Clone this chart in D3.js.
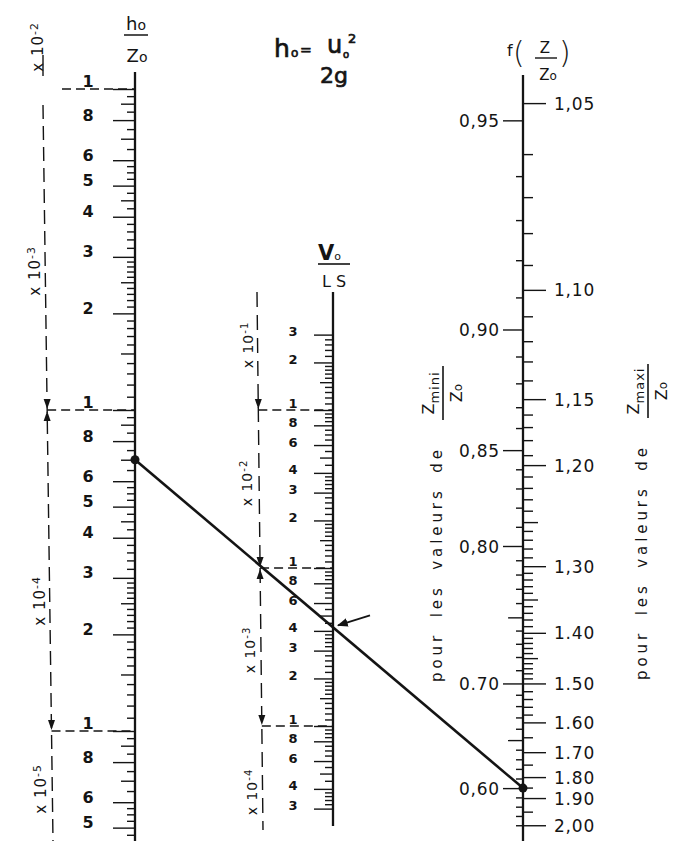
<!DOCTYPE html>
<html>
<head>
<meta charset="utf-8">
<script src="https://cdnjs.cloudflare.com/ajax/libs/d3/7.8.5/d3.min.js"></script>
<style>
  body { margin: 0; background: #fff; }
  svg { display: block; }
</style>
</head>
<body>
<script>
//---- values ----

//left scale h0/Z0 (log)
const hLabelValues = [1e-2, 8e-3, 6e-3, 5e-3, 4e-3, 3e-3, 2e-3, 1e-3, 8e-4, 6e-4, 5e-4, 4e-4, 3e-4, 2e-4, 1e-4, 8e-5, 6e-5, 5e-5];
const hLabelText   = ['1', '8', '6', '5', '4', '3', '2', '1', '8', '6', '5', '4', '3', '2', '1', '8', '6', '5'];
const hDecades     = [1e-2, 1e-3, 1e-4];
const hPowers      = ['-2', '-3', '-4', '-5'];
const hDecadeBase  = [1e-2, 1e-3, 1e-4, 1e-5];
const hMediumMantissa = [1.5, 2.5, 4.5, 7, 9];
const hMinorMantissa  = [1.1, 1.2, 1.3, 1.4, 1.6, 1.7, 1.8, 1.9, 2.1, 2.2, 2.3, 2.4, 2.6, 2.7, 2.8, 2.9,
                         3.2, 3.4, 3.6, 3.8, 4.25, 4.75, 5.25, 5.5, 5.75, 6.5, 7.5, 8.5, 9.5];

//middle scale V0/LS (log)
const vLabelValues = [3e-1, 2e-1, 1e-1, 8e-2, 6e-2, 4e-2, 3e-2, 2e-2, 1e-2, 8e-3, 6e-3, 4e-3, 3e-3, 2e-3, 1e-3, 8e-4, 6e-4, 4e-4, 3e-4];
const vLabelText   = ['3', '2', '1', '8', '6', '4', '3', '2', '1', '8', '6', '4', '3', '2', '1', '8', '6', '4', '3'];
const vDecades     = [1e-1, 1e-2, 1e-3];
const vPowers      = ['-1', '-2', '-3', '-4'];
const vDecadeBase  = [1e-1, 1e-2, 1e-3, 1e-4];
const vMediumMantissa = [1.5, 5];
const vMinorMantissa  = [1.1, 1.2, 1.3, 1.4, 1.6, 1.7, 1.8, 1.9, 2.2, 2.4, 2.6, 2.8, 3.2, 3.4, 3.6, 3.8,
                         4.5, 5.5, 6.5, 7, 7.5, 8.5, 9, 9.5];

//right scale f(Z/Z0): Zmini (left side) and Zmaxi (right side) against f
const zMiniCal = [0.95, 0.94, 0.93, 0.92, 0.91, 0.90, 0.89, 0.88, 0.87, 0.86, 0.85, 0.80, 0.75, 0.70, 0.65, 0.60, 0.56];
const fMiniCal = [975, 639, 458, 338, 255, 200, 163, 133, 111, 94.8, 80.2, 38.8, 22.6, 13.7, 8.92, 6.2, 4.68];
const zMaxiCal = [1.05, 1.06, 1.07, 1.08, 1.09, 1.10, 1.11, 1.12, 1.13, 1.14, 1.15, 1.16, 1.17, 1.18, 1.19, 1.20,
                  1.25, 1.30, 1.40, 1.50, 1.60, 1.70, 1.80, 1.90, 2.00];
const fMaxiCal = [1111, 755, 545, 415, 326, 270, 221, 183, 157, 136, 118, 105, 95.5, 86.5, 77.2, 71.6,
                  46.5, 33.3, 20.1, 13.7, 10.2, 8.14, 6.74, 5.75, 4.68];

const zMiniLabels = [0.95, 0.90, 0.85, 0.80, 0.70, 0.60];
const zMiniText   = ['0,95', '0,90', '0,85', '0,80', '0.70', '0,60'];
const zMiniMedium = [0.75, 0.65];
const zMiniMinor  = [0.94, 0.93, 0.92, 0.91, 0.89, 0.88, 0.87, 0.86, 0.84, 0.83, 0.82, 0.81, 0.79, 0.78, 0.77, 0.76,
                     0.74, 0.73, 0.72, 0.71, 0.69, 0.68, 0.67, 0.66, 0.64, 0.63, 0.62, 0.61, 0.59, 0.58, 0.57, 0.56];

const zMaxiLabels = [1.05, 1.10, 1.15, 1.20, 1.30, 1.40, 1.50, 1.60, 1.70, 1.80, 1.90, 2.00];
const zMaxiText   = ['1,05', '1,10', '1,15', '1,20', '1,30', '1.40', '1.50', '1.60', '1.70', '1.80', '1.90', '2,00'];
const zMaxiMedium = [1.25, 1.35, 1.45];
const zMaxiMinor  = [1.06, 1.07, 1.08, 1.09, 1.11, 1.12, 1.13, 1.14, 1.16, 1.17, 1.18, 1.19,
                     1.21, 1.22, 1.23, 1.24, 1.26, 1.27, 1.28, 1.29, 1.31, 1.32, 1.33, 1.34, 1.36, 1.37, 1.38, 1.39,
                     1.41, 1.42, 1.43, 1.44, 1.46, 1.47, 1.48, 1.49, 1.52, 1.54, 1.56, 1.58, 1.65, 1.75, 1.85, 1.95];

//worked example drawn on the chart
const exampleH = 7e-4;
const exampleZmini = 0.60;

//---- layout ----
const W = 681, H = 841;
const INK = '#141414';
const FONT = '"DejaVu Sans", sans-serif';
const LEFT_X = 135, MID_X = 333, RIGHT_X = 523;
const LEFT_TOP = 72, MID_TOP = 292, MID_BOTTOM = 826, RIGHT_TOP = 75;

//scales (log scales anchored on decade marks)
const hScale = d3.scaleLog().domain([1e-4, 1e-2]).range([731, 89]);
const vScale = d3.scaleLog().domain([1e-3, 1e-1]).range([726, 410]);
const fScale = d3.scaleLog().domain([1, 1000]).range([1029, 117]);

//Z/Z0 -> log f, piecewise through the calibration points
const zMiniLog = d3.scaleLinear().domain(zMiniCal).range(fMiniCal.map(Math.log10));
const zMaxiLog = d3.scaleLinear().domain(zMaxiCal).range(fMaxiCal.map(Math.log10));
const zMiniToF = z => Math.pow(10, zMiniLog(z));
const zMaxiToF = z => Math.pow(10, zMaxiLog(z));

//slanted dashed guide lines (the scan is hand drawn)
const leftDashX = d3.scaleLinear().domain([105, H]).range([43, 53]);
const midDashX = d3.scaleLinear().domain([MID_TOP, 830]).range([257, 263]);

const svg = d3.select('body').append('svg')
    .attr('width', W)
    .attr('height', H)
    .style('font-family', FONT);

svg.append('rect').attr('width', W).attr('height', H).attr('fill', '#fff');

svg.append('defs').append('marker')
    .attr('id', 'arrow')
    .attr('viewBox', '0 0 10 10')
    .attr('refX', 9).attr('refY', 5)
    .attr('markerWidth', 6).attr('markerHeight', 6)
    .attr('orient', 'auto')
    .append('path').attr('d', 'M0,1 L10,5 L0,9 Z').attr('fill', INK);

//one set of ticks through a d3 axis
function tickAxis(g, axisFn, scale, values, size, fmt){
    let axis = axisFn(scale)
        .tickValues(values)
        .tickSize(size)
        .tickSizeOuter(0)
        .tickFormat(fmt || (() => ''));
    let sel = g.append('g').call(axis);
    sel.select('.domain').remove();
    sel.selectAll('line').attr('stroke', INK).attr('stroke-width', 1.4);
    sel.attr('font-family', null).attr('font-size', null);
    return sel;
}

//spreads mantissas over decades, keeps the ones inside [lo, hi]
function spread(bases, mantissas, lo, hi){
    let out = [];
    bases.forEach(b => mantissas.forEach(m => {
        let v = +(m * b).toPrecision(4);
        if(v >= lo && v <= hi) out.push(v);
    }));
    return out;
}

function vline(x1, y1, x2, y2, w, dash){
    return svg.append('line')
        .attr('x1', x1).attr('y1', y1).attr('x2', x2).attr('y2', y2)
        .attr('stroke', INK).attr('stroke-width', w)
        .attr('stroke-dasharray', dash || null);
}

//small filled arrow head on the dashed guide, tip at (x,y)
function arrowHead(x, y, dir){
    svg.append('path')
        .attr('d', `M${x},${y} L${x - 3.5},${y - dir * 10} L${x + 3.5},${y - dir * 10} Z`)
        .attr('fill', INK);
}

//rotated "x 10^p" multiplier
function multiplier(x, y, p, size){
    let t = svg.append('text')
        .attr('transform', `translate(${x},${y}) rotate(-90)`)
        .attr('text-anchor', 'middle')
        .attr('font-size', size)
        .attr('letter-spacing', 1)
        .attr('fill', INK);
    t.append('tspan').text('x 10');
    t.append('tspan').attr('dy', '-0.5em').attr('font-size', '72%').text(p);
}

//---- left scale ----
vline(LEFT_X, LEFT_TOP, LEFT_X, H, 2.3);
let gLeft = svg.append('g').attr('transform', `translate(${LEFT_X},0)`);
tickAxis(gLeft, d3.axisLeft, hScale, spread(hDecadeBase, hMinorMantissa, 4.5e-5, 1e-2), 8);
tickAxis(gLeft, d3.axisLeft, hScale, spread(hDecadeBase, hMediumMantissa, 4.5e-5, 1e-2), 14);
tickAxis(gLeft, d3.axisLeft, hScale, hLabelValues, 22, (d, i) => hLabelText[i])
    .selectAll('text')
    .attr('x', -47).attr('text-anchor', 'middle')
    .attr('dy', (d, i) => hLabelText[i] === '1' ? -3 : 0)
    .attr('font-size', 16).attr('font-weight', 'bold').attr('fill', INK);

//dashed guide and decade marks
vline(43, 55, 43, 76, 1.4);
vline(leftDashX(105), 105, leftDashX(H), H, 1.4, '14,7');
hDecades.forEach((d, i) => {
    let y = hScale(d);
    let x0 = i === 0 ? 62 : leftDashX(y);
    vline(x0, y, LEFT_X, y, 1.4, '9,5');
    if(i > 0) arrowHead(leftDashX(y), y - 1, 1);
    if(i === 1) arrowHead(leftDashX(y), y + 1, -1);
});
const hMultPos = [[43, 47], [40, 271], [45, 601], [46, 789]];
hPowers.forEach((p, i) => multiplier(hMultPos[i][0], hMultPos[i][1], p, 15));

//title h0/Z0
let th = svg.append('text').attr('x', LEFT_X + 1).attr('y', 30).attr('text-anchor', 'middle')
    .attr('font-size', 18).attr('fill', INK);
th.append('tspan').text('h');
th.append('tspan').attr('font-size', 14).text('o');
vline(124, 35, 148, 35, 1.5);
let tz = svg.append('text').attr('x', LEFT_X + 2).attr('y', 62).attr('text-anchor', 'middle')
    .attr('font-size', 18).attr('fill', INK);
tz.append('tspan').text('Z');
tz.append('tspan').attr('font-size', 14).text('o');

//---- middle scale ----
vline(MID_X, MID_TOP, MID_X, MID_BOTTOM, 2.3);
let gMid = svg.append('g').attr('transform', `translate(${MID_X},0)`);
tickAxis(gMid, d3.axisLeft, vScale, spread(vDecadeBase, vMinorMantissa, 2.9e-4, 3e-1), 8);
tickAxis(gMid, d3.axisLeft, vScale, spread(vDecadeBase, vMediumMantissa, 2.9e-4, 3e-1), 13);
tickAxis(gMid, d3.axisLeft, vScale, vLabelValues, 19, (d, i) => vLabelText[i])
    .selectAll('text')
    .attr('x', -40).attr('text-anchor', 'middle')
    .attr('dy', (d, i) => vLabelText[i] === '1' ? -3 : 1)
    .attr('font-size', 13).attr('font-weight', 'bold').attr('fill', INK);

vline(midDashX(MID_TOP), MID_TOP, midDashX(830), 830, 1.4, '15,8');
vDecades.forEach((d, i) => {
    let y = vScale(d);
    vline(midDashX(y), y, MID_X, y, 1.4, '9,5');
    arrowHead(midDashX(y), y - 1, 1);
    if(i === 1) arrowHead(midDashX(y), y + 1, -1);
});
const vMultPos = [[253, 345], [252, 483], [255, 650], [257, 792]];
vPowers.forEach((p, i) => multiplier(vMultPos[i][0], vMultPos[i][1], p, 14));

//title V0/LS
let tv = svg.append('text').attr('x', 318).attr('y', 260).attr('font-size', 21)
    .attr('font-weight', 'bold').attr('fill', INK);
tv.append('tspan').text('V');
tv.append('tspan').attr('font-size', 11).attr('font-weight', 'normal').text('o');
vline(318, 264, 350, 264, 1.6);
svg.append('text').attr('x', 334).attr('y', 287).attr('text-anchor', 'middle')
    .attr('font-size', 16).attr('fill', INK).text('L S');

//---- right scale f(Z/Z0) ----
vline(RIGHT_X, RIGHT_TOP, RIGHT_X, H, 2.3);
let gRight = svg.append('g').attr('transform', `translate(${RIGHT_X},0)`);
tickAxis(gRight, d3.axisLeft, fScale, zMiniMinor.map(zMiniToF), 7);
tickAxis(gRight, d3.axisLeft, fScale, zMiniMedium.map(zMiniToF), 15);
tickAxis(gRight, d3.axisLeft, fScale, zMiniLabels.map(zMiniToF), 20, (d, i) => zMiniText[i])
    .selectAll('text')
    .attr('x', -23).attr('dy', '0.36em').attr('text-anchor', 'end')
    .attr('font-size', 17).attr('letter-spacing', 0.8).attr('fill', INK);
tickAxis(gRight, d3.axisRight, fScale, zMaxiMinor.map(zMaxiToF), 10);
tickAxis(gRight, d3.axisRight, fScale, zMaxiMedium.map(zMaxiToF), 15);
tickAxis(gRight, d3.axisRight, fScale, zMaxiLabels.map(zMaxiToF), 23, (d, i) => zMaxiText[i])
    .selectAll('text')
    .attr('x', 31).attr('dy', '0.36em').attr('text-anchor', 'start')
    .attr('font-size', 17).attr('letter-spacing', 0.8).attr('fill', INK);

//title f(Z/Z0)
svg.append('text').attr('x', 507).attr('y', 56).attr('font-size', 16).attr('fill', INK).text('f');
svg.append('text').attr('x', 513).attr('y', 63).attr('font-size', 30).attr('font-weight', 200).attr('fill', INK).text('(');
svg.append('text').attr('x', 545).attr('y', 53).attr('text-anchor', 'middle').attr('font-size', 15).attr('fill', INK).text('Z');
vline(535, 58, 557, 58, 1.4);
let tf = svg.append('text').attr('x', 548).attr('y', 80).attr('text-anchor', 'middle').attr('font-size', 15).attr('fill', INK);
tf.append('tspan').text('Z');
tf.append('tspan').attr('font-size', 12).text('o');
svg.append('text').attr('x', 559).attr('y', 63).attr('font-size', 30).attr('font-weight', 200).attr('fill', INK).text(')');

//rotated side captions
function caption(x, y, sub){
    let g = svg.append('g').attr('transform', `translate(${x},${y}) rotate(-90)`).attr('fill', INK);
    g.append('text').attr('font-size', 15).attr('word-spacing', 6)
        .attr('textLength', 232).attr('lengthAdjust', 'spacing')
        .text('pour les valeurs de');
    let num = g.append('text').attr('x', 289).attr('y', -8).attr('text-anchor', 'middle').attr('font-size', 16);
    num.append('tspan').text('Z');
    num.append('tspan').attr('dy', 5).attr('font-size', 13).attr('letter-spacing', 1).text(sub);
    g.append('line').attr('x1', 262).attr('x2', 316).attr('y1', 1).attr('y2', 1)
        .attr('stroke', INK).attr('stroke-width', 1.6);
    let den = g.append('text').attr('x', 289).attr('y', 20).attr('text-anchor', 'middle').attr('font-size', 16);
    den.append('tspan').text('Z');
    den.append('tspan').attr('font-size', 12).text('o');
}
caption(442, 682, 'mini');
caption(647, 680, 'maxi');

//handwritten formula h0 = u0^2 / 2g
function formula(x, y, size, txt){
    svg.append('text').attr('x', x).attr('y', y).attr('font-size', size)
        .attr('fill', INK).attr('stroke', INK).attr('stroke-width', 0.7).text(txt);
}
formula(274, 57, 25, 'h');
formula(291, 57, 12, 'o');
formula(300, 55, 14, '=');
formula(327, 53, 24, 'u');
formula(343, 58, 10, 'o');
formula(348, 43, 13, '2');
formula(320, 83, 22, '2g');

//---- index line of the example ----
let p1 = [LEFT_X, hScale(exampleH)];
let p2 = [RIGHT_X, fScale(zMiniToF(exampleZmini))];
vline(p1[0], p1[1], p2[0], p2[1], 2.6);
svg.append('circle').attr('cx', p1[0]).attr('cy', p1[1]).attr('r', 4.5).attr('fill', INK);
svg.append('circle').attr('cx', p2[0]).attr('cy', p2[1]).attr('r', 4.5).attr('fill', INK);

let t = (MID_X - p1[0]) / (p2[0] - p1[0]);
let yc = p1[1] + t * (p2[1] - p1[1]);
vline(MID_X + 37, yc - 12, MID_X + 5, yc - 2, 1.8).attr('marker-end', 'url(#arrow)');
</script>
</body>
</html>
